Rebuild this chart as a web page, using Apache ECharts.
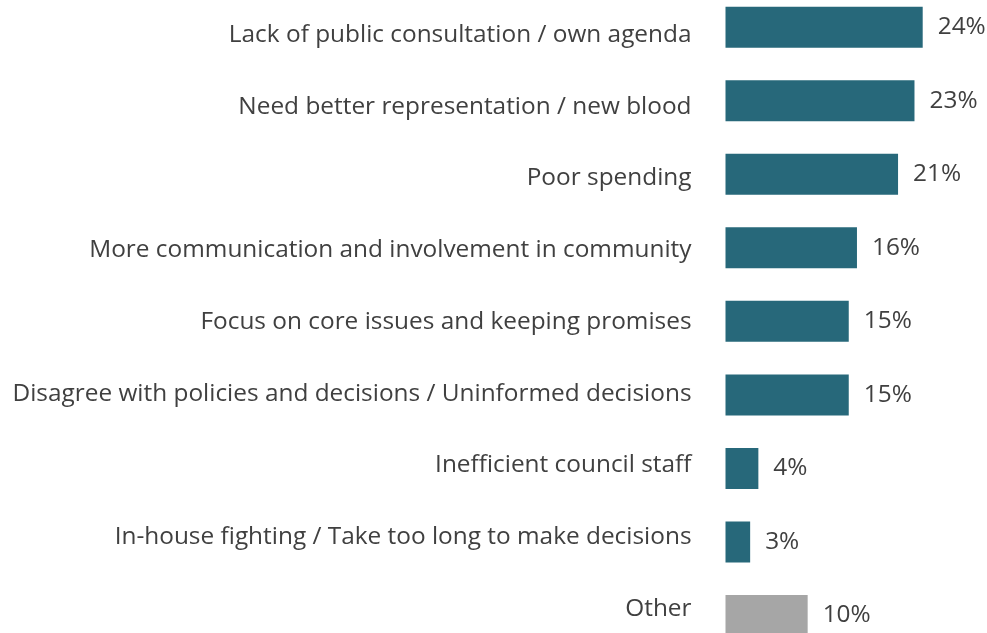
<!DOCTYPE html>
<html>
<head>
<meta charset="utf-8">
<script src="https://cdn.jsdelivr.net/npm/echarts@6/dist/echarts.min.js"></script>
<style>
  html, body { margin: 0; padding: 0; background: #ffffff; }
  #chart { width: 987px; height: 633px; }
</style>
</head>
<body>
<div id="chart"></div>
<script>
// Reasons given, top to bottom
const categories = [
  'Lack of public consultation / own agenda',
  'Need better representation / new blood',
  'Poor spending',
  'More communication and involvement in community',
  'Focus on core issues and keeping promises',
  'Disagree with policies and decisions / Uninformed decisions',
  'Inefficient council staff',
  'In-house fighting / Take too long to make decisions',
  'Other'
];
// Share of respondents (%)
const values = [24, 23, 21, 16, 15, 15, 4, 3, 10];
// The catch-all row is drawn in grey
const highlightColor = '#27687A';
const otherColor = '#A6A6A6';

const chart = echarts.init(document.getElementById('chart'), null, { renderer: 'canvas' });

const barData = values.map((v, i) => ({
  value: v,
  itemStyle: { color: categories[i] === 'Other' ? otherColor : highlightColor }
}));

const textStyle = { color: '#404040', fontFamily: 'Open Sans', fontSize: 24.4 };

chart.setOption({
  animation: false,
  backgroundColor: '#ffffff',
  grid: [
    // bars: first and last rows sit on the grid edges (boundaryGap off)
    { left: 725.5, right: 15, top: 27.2, bottom: 17.5, containLabel: false },
    // category text column, spaced slightly tighter than the bars
    { left: 725.5, right: 15, top: 35, bottom: 24.3, containLabel: false }
  ],
  xAxis: [
    { type: 'value', gridIndex: 0, min: 0, max: 30, show: false },
    { type: 'value', gridIndex: 1, min: 0, max: 30, show: false }
  ],
  yAxis: [
    {
      type: 'category',
      gridIndex: 0,
      data: categories,
      inverse: true,
      boundaryGap: false,
      axisLine: { show: false },
      axisTick: { show: false },
      splitLine: { show: false },
      axisLabel: { show: false }
    },
    {
      type: 'category',
      gridIndex: 1,
      data: categories,
      inverse: true,
      boundaryGap: false,
      axisLine: { show: false },
      axisTick: { show: false },
      splitLine: { show: false },
      axisLabel: Object.assign({ margin: 34 }, textStyle)
    }
  ],
  series: [{
    type: 'bar',
    xAxisIndex: 0,
    yAxisIndex: 0,
    data: barData,
    barWidth: 41,
    label: Object.assign({
      show: true,
      position: 'right',
      distance: 15,
      formatter: p => p.value + '%'
    }, textStyle)
  }]
});
</script>
</body>
</html>
